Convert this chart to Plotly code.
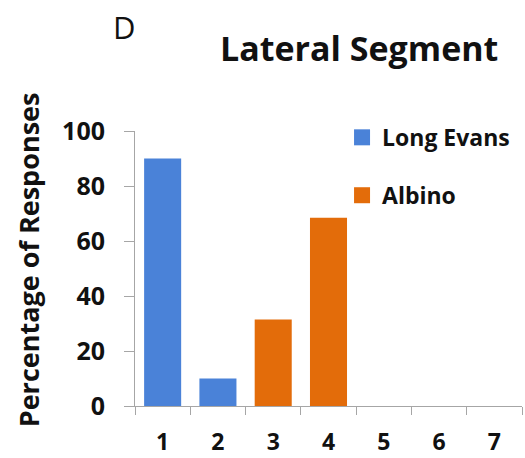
import plotly.graph_objects as go

# Response categories and percentage of responses per strain
categories = ["1", "2", "3", "4", "5", "6", "7"]
long_evans = [90, 10, None, None, None, None, None]
albino = [None, None, 31.5, 68.5, None, None, None]
y_ticks = [0, 20, 40, 60, 80, 100]

blue = "#4A82D8"
orange = "#E36C0A"
axis_gray = "#A6A6A6"
text_color = "#111111"
font_family = "'Open Sans', Lato, sans-serif"

fig = go.Figure()

fig.add_trace(go.Bar(x=categories, y=long_evans, marker=dict(color=blue, line=dict(width=0)),
                     name="Long Evans", showlegend=False))
fig.add_trace(go.Bar(x=categories, y=albino, marker=dict(color=orange, line=dict(width=0)),
                     name="Albino", showlegend=False))

# Legend entries with larger square swatches
fig.add_trace(go.Scatter(x=[None], y=[None], mode="markers", name="Long Evans",
                         marker=dict(symbol="square", size=17, color=blue),
                         legendgroup="le"))
fig.add_trace(go.Scatter(x=[None], y=[None], mode="markers", name="Albino",
                         marker=dict(symbol="square", size=17, color=orange),
                         legendgroup="al"))

fig.update_layout(
    width=525, height=458,
    margin=dict(l=135, r=3, t=131, b=52),
    paper_bgcolor="white", plot_bgcolor="white",
    barmode="overlay", bargap=0.33,
    font=dict(family=font_family, color=text_color),
    legend=dict(x=0.535, y=1.055, xanchor="left", yanchor="top",
                font=dict(size=23, family=font_family, weight="bold", color=text_color),
                tracegroupgap=25, bgcolor="rgba(0,0,0,0)"),
    xaxis=dict(type="category", categoryorder="array", categoryarray=categories,
               showline=True, linecolor=axis_gray, linewidth=1,
               ticks="outside", tickson="boundaries", ticklen=8, tickcolor=axis_gray,
               showgrid=False, zeroline=False, automargin=False,
               tickfont=dict(size=23, family=font_family, weight="bold", color=text_color),
               ticklabelstandoff=15),
    yaxis=dict(range=[0, 100], tickvals=y_ticks,
               showline=True, linecolor=axis_gray, linewidth=1,
               ticks="outside", ticklen=10, tickcolor=axis_gray,
               showgrid=False, zeroline=False, automargin=False,
               tickfont=dict(size=25, family=font_family, weight="bold", color=text_color),
               ticklabelstandoff=14),
    annotations=[
        dict(text="Lateral Segment", xref="paper", yref="paper", x=0.579, y=1.30,
             xanchor="center", yanchor="middle", showarrow=False,
             font=dict(size=34, family=font_family, weight="bold", color=text_color)),
        dict(text="D", xref="paper", yref="paper", x=-0.026, y=1.377,
             xanchor="center", yanchor="middle", showarrow=False,
             font=dict(size=31, family=font_family, color=text_color)),
        dict(text="Percentage of Responses", xref="paper", yref="paper", x=-0.2765, y=0.5335,
             xanchor="center", yanchor="middle", showarrow=False, textangle=-90,
             font=dict(size=27, family=font_family, weight="bold", color=text_color)),
    ],
)

fig.write_html("out.html")
